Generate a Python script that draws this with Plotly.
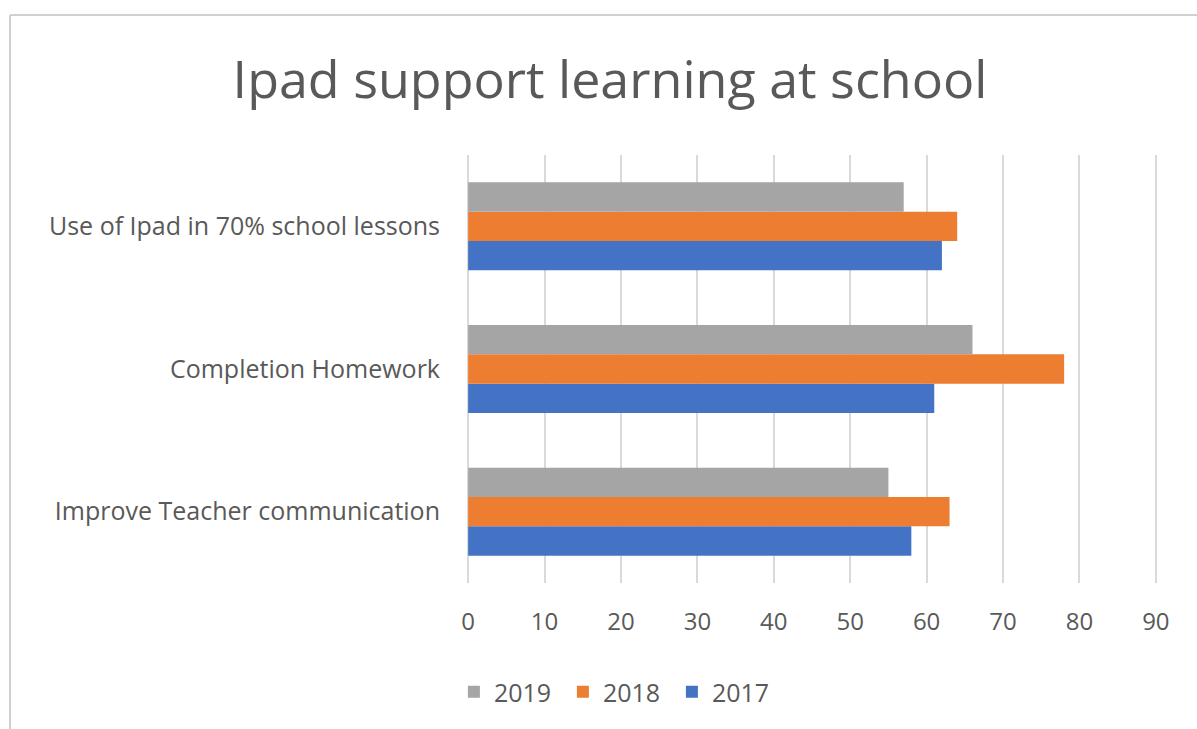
import plotly.graph_objects as go

categories = ["Improve Teacher communication", "Completion Homework", "Use of Ipad in 70% school lessons"]
years = ["2017", "2018", "2019"]
values_2017 = [58, 61, 62]
values_2018 = [63, 78, 64]
values_2019 = [55, 66, 57]
colors = ["#4472C4", "#ED7D31", "#A5A5A5"]
x_ticks = [0, 10, 20, 30, 40, 50, 60, 70, 80, 90]

series = [values_2017, values_2018, values_2019]

fig = go.Figure()
for name, vals, col in zip(years, series, colors):
    fig.add_trace(go.Bar(
        y=categories, x=vals, name=name, orientation="h",
        marker=dict(color=col, line=dict(width=0)),
    ))

W, H = 1197, 729
L, R, T, B = 467, 40, 155, 146

fig.update_layout(
    width=W, height=H,
    margin=dict(l=L, r=R, t=T, b=B, pad=0),
    paper_bgcolor="white", plot_bgcolor="white",
    barmode="group", bargap=0.383, bargroupgap=0,
    font=dict(family="Open Sans", color="#595959"),
    title=dict(text="Ipad support learning at school", x=610 / W, xanchor="center",
               y=1 - 80 / H, yanchor="middle", yref="container", xref="container",
               font=dict(size=52, color="#595959", family="Open Sans")),
    xaxis=dict(range=[-0.15, 90.15], tickvals=x_ticks, showgrid=True, gridcolor="#D9D9D9", gridwidth=2,
               zeroline=False, showline=False, tickfont=dict(size=24, color="#595959"),
               ticks="", ticklabelstandoff=22, fixedrange=True),
    yaxis=dict(showgrid=False, zeroline=False, showline=False, ticks="",
               tickfont=dict(size=25, color="#595959"), ticklabelstandoff=26),
    legend=dict(orientation="h", traceorder="reversed", x=-0.019, xanchor="left",
                y=-(692 - 583) / 428, yanchor="middle", font=dict(size=25, color="#595959"),
                itemwidth=30, entrywidth=64, entrywidthmode="pixels"),
    showlegend=True,
    shapes=[
        dict(type="line", xref="paper", yref="paper", x0=(10 - L) / 690, x1=1.1,
             y0=(583 - 15) / 428, y1=(583 - 15) / 428, line=dict(color="#D0D0D0", width=2)),
        dict(type="line", xref="paper", yref="paper", x0=(10 - L) / 690, x1=(10 - L) / 690,
             y0=(583 - 15) / 428, y1=-0.5, line=dict(color="#D0D0D0", width=2)),
    ],
)

fig.write_html("out.html")
